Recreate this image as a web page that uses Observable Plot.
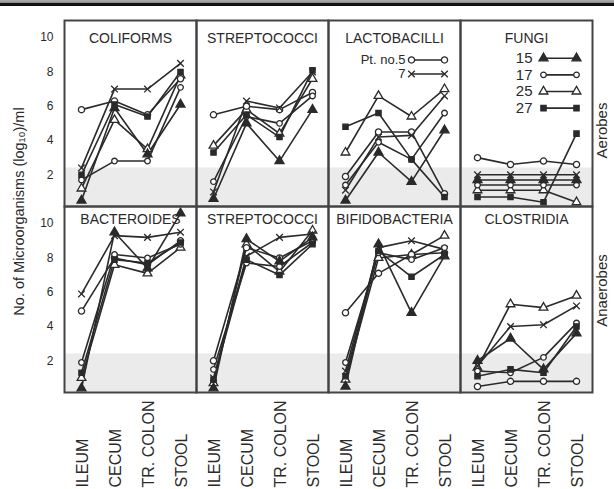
<!DOCTYPE html>
<html><head><meta charset="utf-8">
<script src="https://cdn.jsdelivr.net/npm/d3@7"></script>
<script src="https://cdn.jsdelivr.net/npm/@observablehq/plot@0.6"></script>
<style>
body{margin:0;background:#fff;}
#wrap{position:relative;width:614px;height:489px;overflow:hidden;}
#scan{position:absolute;left:0;top:0;width:614px;height:6px;background:linear-gradient(#b0b0b0,#8a8a8a 50%,#111 55%,#111);}
#chart{position:absolute;left:0;top:0;}
</style></head><body><div id="wrap"><div id="chart"></div><div id="scan"></div></div>
<script>
const locations = ["ILEUM", "CECUM", "TR. COLON", "STOOL"];
const patients = [5, 7, 15, 17, 25, 27];
const groups = ["Aerobes", "Anaerobes"];
const aerobeOrganisms = ["COLIFORMS", "STREPTOCOCCI", "LACTOBACILLI", "FUNGI"];
const anaerobeOrganisms = ["BACTEROIDES", "STREPTOCOCCI", "BIFIDOBACTERIA", "CLOSTRIDIA"];
const yTicks = [2, 4, 6, 8, 10];
const shadedLimit = 2.4;
const yLabel = "No. of Microorganisms (log\u2081\u2080)/ml";

// rows: patients 5, 7, 15, 17, 25, 27 ; columns: ILEUM, CECUM, TR. COLON, STOOL
const coliforms = [
  [5.8, 6.3, 5.5, 7.6],
  [2.4, 7.0, 7.0, 8.5],
  [0.5, 5.9, 3.2, 6.1],
  [1.7, 2.8, 2.8, 7.1],
  [1.2, 5.2, 3.5, 7.8],
  [2.0, 6.1, 5.4, 8.0]
];
const streptococciAerobic = [
  [5.5, 6.0, 5.8, 6.8],
  [1.0, 6.3, 5.9, 8.0],
  [0.6, 5.0, 2.8, 5.8],
  [1.6, 5.4, 5.0, 6.6],
  [3.7, 5.8, 4.4, 7.6],
  [3.3, 5.5, 4.2, 8.1]
];
const lactobacilli = [
  [1.9, 4.5, 4.5, 0.9],
  [1.1, 4.2, 4.3, 6.6],
  [0.5, 3.3, 1.6, 4.6],
  [1.4, 3.9, 2.9, 5.6],
  [3.3, 6.6, 5.4, 7.0],
  [4.8, 5.6, 2.9, 0.7]
];
const fungi = [
  [3.0, 2.6, 2.8, 2.6],
  [2.0, 2.0, 2.0, 2.0],
  [1.7, 1.7, 1.7, 1.7],
  [1.4, 1.4, 1.4, 1.4],
  [1.1, 1.1, 1.1, 0.4],
  [0.7, 0.7, 0.4, 4.4]
];
const bacteroides = [
  [4.9, 8.0, 7.6, 9.0],
  [5.9, 9.3, 9.2, 9.5],
  [0.4, 9.5, 7.4, 10.6],
  [1.9, 8.2, 8.0, 8.8],
  [1.0, 7.6, 7.1, 8.6],
  [1.3, 7.9, 7.7, 8.9]
];
const streptococciAnaerobic = [
  [2.0, 8.6, 8.0, 9.0],
  [1.0, 8.1, 9.2, 9.4],
  [0.4, 9.1, 7.8, 9.2],
  [1.5, 7.7, 7.5, 8.9],
  [0.7, 8.8, 7.2, 9.6],
  [0.9, 7.9, 7.0, 8.8]
];
const bifidobacteria = [
  [4.8, 7.1, 8.2, 8.3],
  [1.4, 8.6, 9.0, 8.5],
  [0.5, 8.8, 4.8, 8.1],
  [1.9, 8.3, 7.9, 8.6],
  [0.9, 8.0, 8.2, 9.3],
  [1.1, 8.4, 6.9, 8.2]
];
const clostridia = [
  [0.5, 0.8, 0.8, 0.8],
  [1.7, 4.0, 4.1, 5.2],
  [2.0, 3.3, 1.5, 3.6],
  [1.4, 1.3, 2.2, 4.2],
  [1.6, 5.3, 5.1, 5.8],
  [1.1, 1.5, 1.3, 4.0]
];
const legendGroups = [[5, 7], [15, 17, 25, 27]];
const legendLabels = {5: "Pt. no.5", 7: "7", 15: "15", 17: "17", 25: "25", 27: "27"};

const panelValues = [
  [coliforms, streptococciAerobic, lactobacilli, fungi],
  [bacteroides, streptococciAnaerobic, bifidobacteria, clostridia]
];
const panelTitles = [aerobeOrganisms, anaerobeOrganisms];

const points = [];
const titles = [];
groups.forEach((g, gi) => {
  panelValues[gi].forEach((tbl, col) => {
    titles.push({group: g, col, title: panelTitles[gi][col]});
    tbl.forEach((row, pi) => row.forEach((v, li) => {
      points.push({group: g, col, patient: patients[pi], location: locations[li], value: v});
    }));
  });
});

const shapes = ["circle", "times", "triangle", "circle", "triangle", "square"];
const filledSet = new Set([15, 27]);
const sizeOf = {5: 3.3, 7: 3.3, 15: 3.8, 17: 2.7, 25: 3.6, 27: 3.0};

// legend layout (columns 2 and 3 of the aerobes row)
const legendStart = [8.7, 8.8];
const legendStep = [0.82, 0.97];
const legend = [];
legendGroups.forEach((ps, k) => ps.forEach((p, i) => {
  legend.push({group: "Aerobes", col: k + 2, patient: p, label: legendLabels[p],
               y: legendStart[k] - i * legendStep[k]});
}));
const legendEnds = legend.flatMap(d => [{...d, location: "TR. COLON"}, {...d, location: "STOOL"}]);

const ink = "#2a2a2a";
const font = "'Liberation Sans', Arial, sans-serif";
const yDomain = [0.15, 11];

const dotOpts = (filled) => ({
  x: "location", y: "value", fx: "col", fy: "group",
  symbol: "patient", r: d => sizeOf[d.patient],
  fill: filled ? ink : "white", stroke: ink, strokeWidth: 1.3
});

const chart = Plot.plot({
  width: 614, height: 489,
  marginTop: 19, marginLeft: 63, marginRight: 21, marginBottom: 97,
  style: {fontFamily: font, color: ink, background: "transparent", overflow: "visible"},
  x: {type: "point", domain: locations, padding: 0.5, axis: null},
  y: {domain: yDomain, axis: null},
  fx: {domain: [0, 1, 2, 3], padding: 0, axis: null},
  fy: {domain: groups, padding: 0, axis: null},
  symbol: {domain: patients, range: shapes},
  marks: [
    Plot.rect([shadedLimit], {y1: yDomain[0], y2: d => d, fill: "#ebebeb"}),
    Plot.line(points, {x: "location", y: "value", fx: "col", fy: "group", z: "patient", stroke: ink, strokeWidth: 1.6}),
    Plot.dot(points.filter(d => !filledSet.has(d.patient)), dotOpts(false)),
    Plot.dot(points.filter(d => filledSet.has(d.patient)), dotOpts(true)),
    // legend
    Plot.link(legend, {x1: () => "TR. COLON", x2: () => "STOOL", y1: "y", y2: "y", fx: "col", fy: "group", stroke: ink, strokeWidth: 1.6}),
    Plot.dot(legendEnds.filter(d => !filledSet.has(d.patient)), {x: "location", y: "y", fx: "col", fy: "group", symbol: "patient", r: d => sizeOf[d.patient], fill: "white", stroke: ink, strokeWidth: 1.3}),
    Plot.dot(legendEnds.filter(d => filledSet.has(d.patient)), {x: "location", y: "y", fx: "col", fy: "group", symbol: "patient", r: d => sizeOf[d.patient], fill: ink, stroke: ink, strokeWidth: 1.3}),
    Plot.text(legend.filter(d => d.col === 2), {x: () => "TR. COLON", y: "y", fx: "col", fy: "group", text: "label", textAnchor: "end", dx: -6, fontSize: 13, fill: ink}),
    Plot.text(legend.filter(d => d.col === 3), {x: () => "TR. COLON", y: "y", fx: "col", fy: "group", text: "label", textAnchor: "end", dx: -11, fontSize: 15, fill: ink}),
    // panel titles
    Plot.text(titles.filter(d => d.group === "Aerobes"), {fx: "col", fy: "group", text: "title", frameAnchor: "top", textAnchor: "middle", dy: 13, fontSize: 14, fill: ink}),
    Plot.text(titles.filter(d => d.group === "Anaerobes"), {fx: "col", fy: "group", text: "title", frameAnchor: "top", textAnchor: "middle", dy: 8, fontSize: 14, fill: ink}),
    // y tick labels (left column)
    Plot.text(yTicks, {y: d => d, fx: () => 0, frameAnchor: "left", text: d => String(d), textAnchor: "end", dx: -11, fontSize: 12, fill: ink}),
    // x tick labels (bottom row)
    Plot.text(locations, {x: d => d, fy: () => "Anaerobes", frameAnchor: "bottom", text: d => d, rotate: -90, textAnchor: "start", dx: 6, dy: 95, fontSize: 16, fill: ink}),
    // y title spanning both rows
    Plot.text([yLabel], {fx: () => 0, fy: () => "Aerobes", frameAnchor: "bottom-left", text: d => d, rotate: -90, textAnchor: "middle", dx: -41, dy: 5, fontSize: 14.5, fill: ink}),
    // row labels
    Plot.text(["Aerobes"], {fx: () => 3, fy: d => d, frameAnchor: "right", text: d => d, rotate: -90, textAnchor: "middle", dx: 10, dy: 17, fontSize: 15, fill: ink}),
    Plot.text(["Anaerobes"], {fx: () => 3, fy: d => d, frameAnchor: "right", text: d => d, rotate: -90, textAnchor: "middle", dx: 10, dy: -9, fontSize: 15, fill: ink}),
    Plot.frame({stroke: "#444", strokeWidth: 2})
  ]
});
document.getElementById("chart").appendChild(chart);
</script>
</body></html>
